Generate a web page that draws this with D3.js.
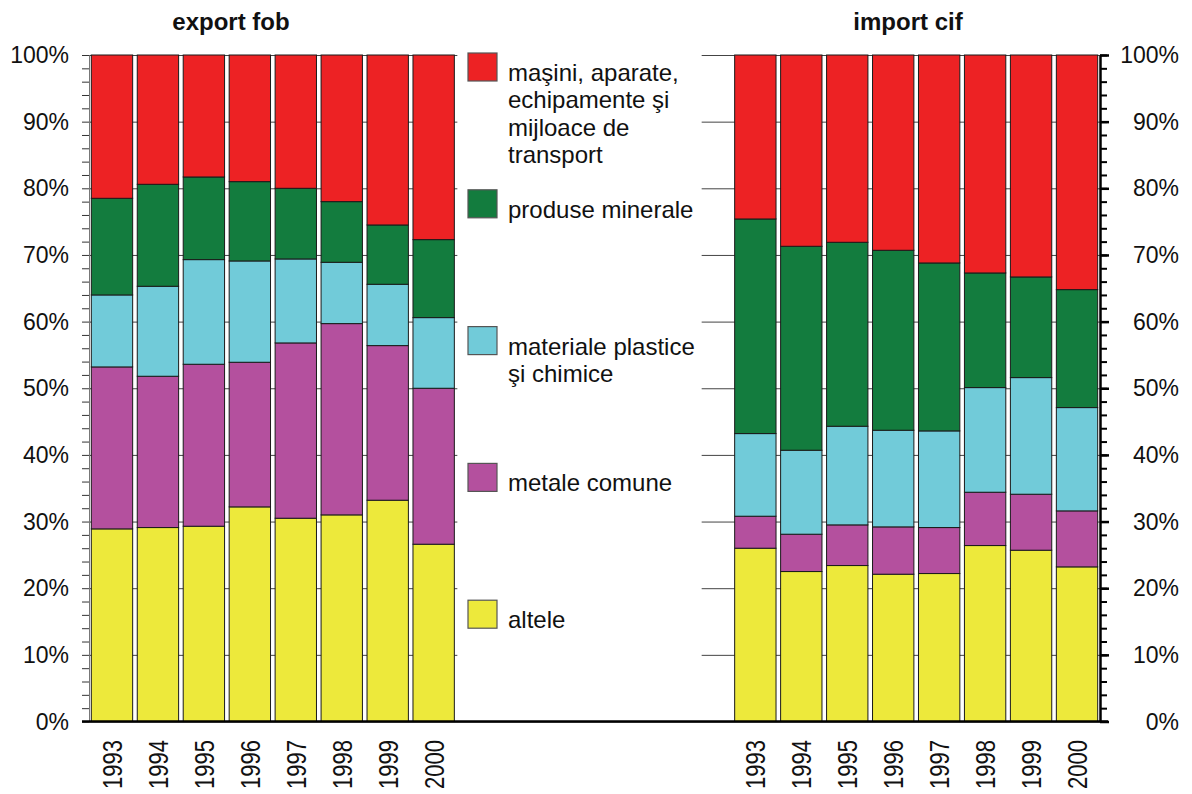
<!DOCTYPE html>
<html>
<head>
<meta charset="utf-8">
<script src="https://cdn.jsdelivr.net/npm/d3@7"></script>
<style>
  body { margin: 0; background: #fff; }
  svg { font-family: "Liberation Sans", Arial, sans-serif; }
</style>
</head>
<body>
<div class="bar-chart"></div>
<script>
// data (procente din total)
const years = ['1993', '1994', '1995', '1996', '1997', '1998', '1999', '2000'];
// de jos in sus in bara
const categories = ['altele', 'metale comune', 'materiale plastice şi chimice', 'produse minerale',
  'maşini, aparate, echipamente şi mijloace de transport'];
const colors = ['#EDE93B', '#B4509E', '#71CBD9', '#137C3E', '#ED2224'];
// randurile din legenda, de sus in jos
const legendLines = [
  ['maşini, aparate,', 'echipamente şi', 'mijloace de', 'transport'],
  ['produse minerale'],
  ['materiale plastice', 'şi chimice'],
  ['metale comune'],
  ['altele']
];
const panelTitles = ['export fob', 'import cif'];
const yTicks = [0, 10, 20, 30, 40, 50, 60, 70, 80, 90, 100];

// export fob
const expAltele   = [28.9, 29.1, 29.3, 32.2, 30.5, 31.0, 33.2, 26.6];
const expMetale   = [24.3, 22.7, 24.3, 21.7, 26.3, 28.7, 23.2, 23.4];
const expPlastice = [10.8, 13.5, 15.7, 15.2, 12.6, 9.2, 9.2, 10.6];
const expMinerale = [14.5, 15.3, 12.4, 11.9, 10.6, 9.1, 8.9, 11.7];
const expMasini   = [21.5, 19.4, 18.3, 19.0, 20.0, 22.0, 25.5, 27.7];

// import cif
const impAltele   = [26.0, 22.5, 23.4, 22.1, 22.2, 26.4, 25.7, 23.2];
const impMetale   = [4.8, 5.6, 6.1, 7.1, 6.9, 8.0, 8.4, 8.4];
const impPlastice = [12.4, 12.6, 14.8, 14.5, 14.5, 15.7, 17.5, 15.5];
const impMinerale = [32.2, 30.6, 27.6, 27.0, 25.2, 17.2, 15.1, 17.7];
const impMasini   = [24.6, 28.7, 28.1, 29.3, 31.2, 32.7, 33.3, 35.2];

// transforma listele in randuri pentru d3.stack
function prepRows(prefix, series){
  return years.map((y, i) => {
    const row = {key: prefix + y, year: y};
    categories.forEach((c, j) => row[c] = series[j][i]);
    return row;
  });
}

const exportRows = prepRows('e', [expAltele, expMetale, expPlastice, expMinerale, expMasini]);
const importRows = prepRows('i', [impAltele, impMetale, impPlastice, impMinerale, impMasini]);
const rows = exportRows.concat(importRows);

setupCanvas(rows);

function setupCanvas(rows){
  const svg_width = 1192;
  const svg_height = 794;
  const plot = {left: 89, right: 1100, top: 55, bottom: 721.5};

  const svg = d3.select('.bar-chart').append('svg')
    .attr('width', svg_width).attr('height', svg_height);

  // o singura axa de categorii: 8 ani export, 6 locuri goale (legenda), 8 ani import
  const gaps = d3.range(6).map(d => 'gap' + d);
  const domain = exportRows.map(d => d.key).concat(gaps, importRows.map(d => d.key));
  const xScale = d3.scaleBand().domain(domain).range([plot.left, plot.right])
    .paddingInner(0.1).paddingOuter(0.05);
  const yScale = d3.scaleLinear().domain([0, 100]).range([plot.bottom, plot.top]);

  // grila orizontala
  const grid = d3.axisLeft(yScale).tickValues(yTicks).tickSize(-(plot.right - plot.left)).tickFormat('');
  svg.append('g').attr('class', 'grid')
    .attr('transform', `translate(${plot.left},0)`)
    .call(grid)
    .call(g => g.select('.domain').remove())
    .call(g => g.selectAll('line').attr('stroke', '#444').attr('stroke-width', 1));

  // fundal alb pentru legenda (acopera grila din mijloc)
  const legendLeft = xScale('e2000') + xScale.bandwidth() + 3;
  const legendRight = xScale('i1993') - 33;
  svg.append('rect')
    .attr('x', legendLeft).attr('y', plot.top - 2)
    .attr('width', legendRight - legendLeft).attr('height', plot.bottom - plot.top)
    .attr('fill', '#fff');

  // barele stivuite
  const stack = d3.stack().keys(categories);
  const stacked = stack(rows);
  svg.append('g').attr('class', 'bars')
    .selectAll('g').data(stacked).enter()
    .append('g').attr('fill', (d, i) => colors[i])
    .selectAll('rect').data(d => d).enter()
    .append('rect')
    .attr('x', d => xScale(d.data.key))
    .attr('y', d => yScale(d[1]))
    .attr('width', xScale.bandwidth())
    .attr('height', d => yScale(d[0]) - yScale(d[1]))
    .attr('stroke', '#1a1a1a').attr('stroke-width', 1);

  // axa stanga: gradatii mici la 2%
  const minorTicks = d3.range(0, 101, 2);
  svg.append('g').attr('class', 'y axis left')
    .attr('transform', `translate(${plot.left},0)`)
    .call(d3.axisLeft(yScale).tickValues(minorTicks).tickSize(7).tickFormat(''))
    .call(g => g.select('.domain').attr('stroke', '#777'))
    .call(g => g.selectAll('line').attr('stroke', '#333'));

  svg.append('g').attr('class', 'y labels left')
    .selectAll('text').data(yTicks).enter()
    .append('text')
    .attr('x', 69).attr('y', d => yScale(d))
    .attr('text-anchor', 'end').attr('dominant-baseline', 'central')
    .style('font-size', '23px').style('fill', '#111')
    .text(d => d + '%');

  // axa dreapta (groasa)
  svg.append('g').attr('class', 'y axis right')
    .attr('transform', `translate(${plot.right},0)`)
    .call(d3.axisRight(yScale).tickValues(minorTicks).tickSize(7).tickSizeOuter(0).tickFormat(''))
    .call(g => g.select('.domain').attr('stroke', '#000').attr('stroke-width', 2.5))
    .call(g => g.selectAll('line').attr('stroke', '#000').attr('stroke-width', 2));
  svg.append('g')
    .attr('transform', `translate(${plot.right},0)`)
    .call(d3.axisRight(yScale).tickValues(yTicks).tickSize(9).tickFormat(''))
    .call(g => g.select('.domain').remove())
    .call(g => g.selectAll('line').attr('stroke', '#000').attr('stroke-width', 2.5));

  svg.append('g').attr('class', 'y labels right')
    .selectAll('text').data(yTicks).enter()
    .append('text')
    .attr('x', 1179).attr('y', d => yScale(d))
    .attr('text-anchor', 'end').attr('dominant-baseline', 'central')
    .style('font-size', '23px').style('fill', '#111')
    .text(d => d + '%');

  // axa de jos
  svg.append('line')
    .attr('x1', plot.left - 7).attr('x2', plot.right + 8)
    .attr('y1', yScale(0)).attr('y2', yScale(0))
    .attr('stroke', '#000').attr('stroke-width', 2.5);

  // anii, rotiti
  svg.append('g').attr('class', 'x labels')
    .selectAll('text').data(rows).enter()
    .append('text')
    .attr('transform', d => `translate(${xScale(d.key) + xScale.bandwidth() / 2},740) rotate(-90) scale(1,1.25)`)
    .attr('text-anchor', 'end').attr('dominant-baseline', 'central')
    .style('font-size', '22px').style('fill', '#111')
    .text(d => d.year);

  // titluri
  const titleX = [231, 908];
  svg.append('g').attr('class', 'titles')
    .selectAll('text').data(panelTitles).enter()
    .append('text')
    .attr('x', (d, i) => titleX[i]).attr('y', 30)
    .attr('text-anchor', 'middle')
    .style('font-size', '24px').style('font-weight', 'bold').style('fill', '#111')
    .text(d => d);

  // legenda
  const legend = svg.append('g').attr('class', 'legend')
    .selectAll('g').data(legendLines).enter()
    .append('g')
    .attr('transform', (d, i) => `translate(468,${53 + i * 136.8})`);

  legend.append('rect')
    .attr('width', 29).attr('height', 28)
    .attr('fill', (d, i) => colors[colors.length - 1 - i])
    .attr('stroke', '#555').attr('stroke-width', 1.2);

  legend.append('text')
    .style('font-size', '24px').style('fill', '#111')
    .selectAll('tspan').data(d => d).enter()
    .append('tspan')
    .attr('x', 40).attr('y', (d, i) => 28 + i * 27.3)
    .text(d => d);
}
</script>
</body>
</html>
